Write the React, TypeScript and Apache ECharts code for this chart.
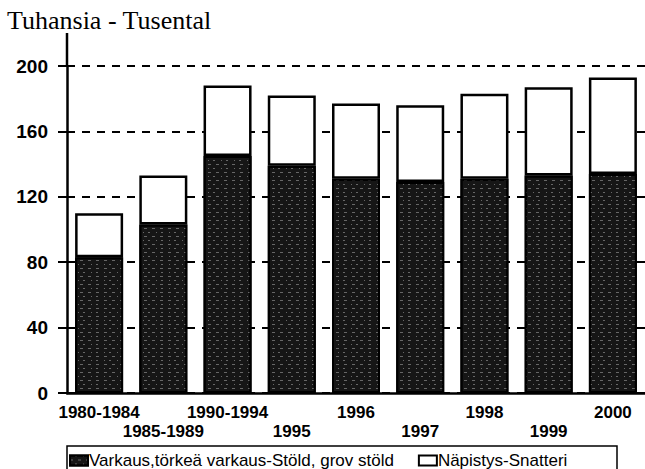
import React, { useEffect, useRef } from "react";
import * as echarts from "echarts";

const categories = ["1980-1984", "1985-1989", "1990-1994", "1995", "1996", "1997", "1998", "1999", "2000"];
const theftValues = [83, 103, 145, 139, 131, 129, 131, 133, 134];
const shopliftingValues = [27, 30, 43, 43, 46, 47, 52, 54, 59];
const seriesNames = ["Varkaus,törkeä varkaus-Stöld, grov stöld", "Näpistys-Snatteri"];
const titleText = "Tuhansia - Tusental";

export default function App() {
  const ref = useRef<HTMLDivElement>(null);
  useEffect(() => {
    if (!ref.current) return;
    const chart = echarts.init(ref.current, undefined, { renderer: "svg" });
    const sans = "'Liberation Sans', Arial, sans-serif";
    chart.setOption({
      animation: false,
      backgroundColor: "#ffffff",
      title: {
        text: titleText,
        left: 7,
        top: 7,
        padding: 0,
        textStyle: { fontFamily: "'Liberation Serif', 'Times New Roman', serif", fontSize: 26, fontWeight: "normal", color: "#000" },
      },
      grid: { left: 67, top: 66, width: 580, bottom: 76, containLabel: false },
      legend: {
        left: 69,
        top: 452,
        padding: 0,
        icon: "rect",
        itemWidth: 18,
        itemHeight: 10,
        itemGap: 24,
        textStyle: { fontFamily: sans, fontSize: 17, color: "#000", padding: [0, 0, 0, -4] },
        data: seriesNames,
      },
      xAxis: {
        type: "category",
        data: categories,
        axisLine: { lineStyle: { color: "#000", width: 2.5 } },
        axisTick: { show: false },
        axisLabel: {
          interval: 0,
          margin: 10,
          fontFamily: sans,
          fontSize: 17,
          fontWeight: "bold",
          color: "#000",
          lineHeight: 19,
          verticalAlign: "top",
          formatter: (v: string, i: number) => (i % 2 === 1 ? "\n" + v : v),
        },
      },
      yAxis: {
        type: "value",
        min: 0,
        max: 200,
        interval: 40,
        axisLine: { show: true, lineStyle: { color: "#000", width: 2.5 } },
        axisTick: { show: true, length: 9, lineStyle: { color: "#000", width: 2 } },
        axisLabel: { margin: 19, fontFamily: sans, fontSize: 19, fontWeight: "bold", color: "#000" },
        splitLine: { show: true, lineStyle: { color: "#000", width: 2, type: [8, 7] } },
      },
      graphic: [
        { type: "line", shape: { x1: 67, y1: 33, x2: 67, y2: 67 }, style: { stroke: "#000", lineWidth: 2.5 } },
        { type: "rect", shape: { x: 67, y: 446, width: 550, height: 40 }, style: { fill: "none", stroke: "#000", lineWidth: 1.5 } },
      ],
      series: [
        {
          name: seriesNames[0],
          type: "bar",
          stack: "total",
          barWidth: 48,
          data: theftValues,
          itemStyle: {
            color: "#161616",
            borderColor: "#000",
            borderWidth: 2,
            decal: {
              symbol: "rect",
              symbolSize: 1,
              color: "rgba(255,255,255,0.35)",
              dashArrayX: [[3, 5], [1, 4, 2, 6]],
              dashArrayY: [1, 3],
              rotation: 0,
            },
          },
        },
        {
          name: seriesNames[1],
          type: "bar",
          stack: "total",
          barWidth: 48,
          data: shopliftingValues,
          itemStyle: { color: "#fff", borderColor: "#000", borderWidth: 2.5 },
        },
      ],
    });
    return () => chart.dispose();
  }, []);
  return <div ref={ref} style={{ position: "fixed", left: 0, top: 0, width: 645, height: 469 }} />;
}
